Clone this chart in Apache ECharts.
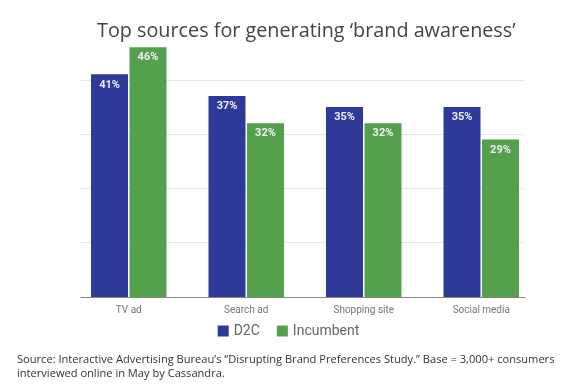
<!DOCTYPE html>
<html><head><meta charset="utf-8">
<script src="https://cdn.jsdelivr.net/npm/echarts@6/dist/echarts.min.js"></script>
<style>html,body{margin:0;padding:0;background:#fff}#c{width:577px;height:385px}</style>
</head><body><div id="c"></div>
<script>
const categories = ['TV ad', 'Search ad', 'Shopping site', 'Social media'];
const d2c = [41, 37, 35, 35];
const incumbent = [46, 32, 32, 29];
const seriesNames = ['D2C', 'Incumbent'];
const titleText = 'Top sources for generating \u2018brand awareness\u2019';
const sourceText = 'Source: Interactive Advertising Bureau\u2019s \u201cDisrupting Brand Preferences Study.\u201d Base = 3,000+ consumers\ninterviewed online in May by Cassandra.';

const chart = echarts.init(document.getElementById('c'), null, {renderer: 'canvas'});
const labelOpt = {show: true, position: 'insideTop', distance: 5, formatter: '{c}%', color: '#eef0f8', fontSize: 11, fontWeight: 'bold', fontFamily: 'Roboto'};
chart.setOption({
  animation: false,
  title: [
    {text: titleText, left: 92, top: 16, textStyle: {fontFamily: 'Open Sans', fontSize: 19.8, fontWeight: 'normal', color: '#444'}},
    {text: sourceText, left: 12, top: 348, textStyle: {fontFamily: 'Open Sans', fontSize: 11.1, fontWeight: 'normal', color: '#333', lineHeight: 14}}
  ],
  legend: {data: seriesNames, left: 'center', top: 324, itemWidth: 11, itemHeight: 11, itemGap: 17, icon: 'rect',
    textStyle: {fontFamily: 'Roboto', fontSize: 14, color: '#666'}, padding: [0, 0, 0, 10]},
  grid: [
    {left: 70, right: 37, top: 25.5, bottom: 88},
    {left: 81, right: 52, top: 25.5, bottom: 88}
  ],
  xAxis: [
    {type: 'category', gridIndex: 0, data: categories, axisLine: {show: false}, axisTick: {show: false},
      axisLabel: {fontFamily: 'Roboto', fontSize: 10, color: '#777', margin: 8}},
    {type: 'category', gridIndex: 1, data: categories, axisLine: {show: true, lineStyle: {color: '#888', width: 1}}, axisTick: {show: false}, axisLabel: {show: false}}
  ],
  yAxis: [
    {type: 'value', gridIndex: 0, min: 0, max: 50, interval: 10, show: false, splitLine: {show: false}},
    {type: 'value', gridIndex: 1, min: 0, max: 50, interval: 10, axisLabel: {show: false}, axisLine: {show: false}, axisTick: {show: false},
      splitLine: {show: true, showMinLine: false, showMaxLine: false, lineStyle: {color: '#e6e6e6', width: 1}}}
  ],
  series: [
    {name: seriesNames[0], type: 'bar', xAxisIndex: 0, yAxisIndex: 0, data: d2c, barWidth: 37, barGap: '4%', itemStyle: {color: '#2E3A97'}, label: labelOpt, z: 2},
    {name: seriesNames[1], type: 'bar', xAxisIndex: 0, yAxisIndex: 0, data: incumbent, barWidth: 37, barGap: '4%', itemStyle: {color: '#55A04D'}, label: labelOpt, z: 2}
  ]
});
</script></body></html>
